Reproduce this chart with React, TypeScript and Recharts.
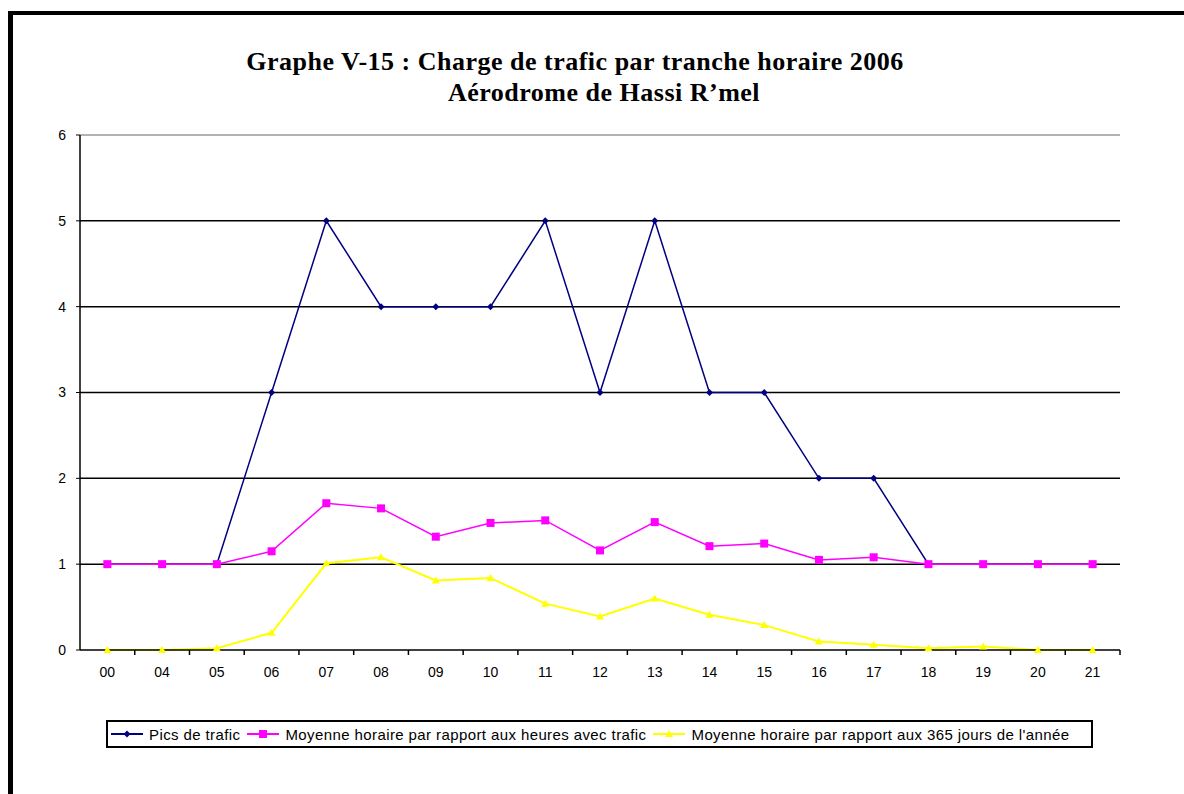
import React from 'react';
import { LineChart, Line, XAxis, YAxis, ReferenceLine } from 'recharts';

const hours = ['00', '04', '05', '06', '07', '08', '09', '10', '11', '12', '13', '14', '15', '16', '17', '18', '19', '20', '21'];
const picsTrafic = [1, 1, 1, 3, 5, 4, 4, 4, 5, 3, 5, 3, 3, 2, 2, 1, 1, 1, 1];
const moyHeures = [1, 1, 1, 1.15, 1.71, 1.65, 1.32, 1.48, 1.51, 1.16, 1.49, 1.21, 1.24, 1.05, 1.08, 1, 1, 1, 1];
const moy365 = [0, 0, 0.02, 0.2, 1.01, 1.08, 0.81, 0.84, 0.54, 0.39, 0.6, 0.41, 0.29, 0.1, 0.06, 0.02, 0.04, 0, 0];
const yTicks = [0, 1, 2, 3, 4, 5, 6];
const gridValues = [1, 2, 3, 4, 5];

const titleLines = [
  'Graphe V-15 : Charge de trafic par tranche horaire 2006',
  'Aérodrome de Hassi R\u2019mel',
];

const seriesNames = {
  pics: 'Pics de trafic',
  heures: 'Moyenne horaire par rapport aux heures avec trafic',
  jours: "Moyenne horaire par rapport aux 365 jours de l'année",
};

const NAVY = '#000080';
const MAGENTA = '#FF00FF';
const YELLOW = '#FFFF00';

const data = hours.map((h, i) => ({
  hour: h,
  pics: picsTrafic[i],
  heures: moyHeures[i],
  jours: moy365[i],
}));

const CHART_W = 1184;
const CHART_H = 700;
const MARGIN = { top: 135, right: 64, left: 0, bottom: 20 };
const Y_W = 80;
const BAND = (CHART_W - MARGIN.right - Y_W) / hours.length;
const SANS = "'Liberation Sans', Arial, sans-serif";

const Diamond = (props: any) => {
  const { cx, cy } = props;
  if (cx == null || cy == null) return null;
  return <path d={`M${cx},${cy - 3.5}L${cx + 3.5},${cy}L${cx},${cy + 3.5}L${cx - 3.5},${cy}Z`} fill={NAVY} />;
};

const Square = (props: any) => {
  const { cx, cy } = props;
  if (cx == null || cy == null) return null;
  return <rect x={cx - 4} y={cy - 4} width={8} height={8} fill={MAGENTA} />;
};

const Triangle = (props: any) => {
  const { cx, cy } = props;
  if (cx == null || cy == null) return null;
  return <path d={`M${cx},${cy - 4}L${cx + 4},${cy + 3}L${cx - 4},${cy + 3}Z`} fill={YELLOW} />;
};

const HourTick = (props: any) => {
  const { x, y, payload } = props;
  return (
    <g>
      <line x1={x + BAND / 2} x2={x + BAND / 2} y1={y - 17} y2={y - 12} stroke="#000" strokeWidth={1.5} />
      <text x={x} y={y} dy="0.71em" textAnchor="middle" fontSize={14} fill="#000" fontFamily={SANS}>
        {payload.value}
      </text>
    </g>
  );
};

const legendIcon = (key: string, color: string) => (
  <svg width={36} height={14} style={{ marginRight: 4 }}>
    <line x1={2} x2={34} y1={7} y2={7} stroke={color} strokeWidth={2} />
    {key === 'pics' && <path d="M18,3.5L21.5,7L18,10.5L14.5,7Z" fill={color} />}
    {key === 'heures' && <rect x={14} y={3} width={8} height={8} fill={color} />}
    {key === 'jours' && <path d="M18,3L22,10L14,10Z" fill={color} />}
  </svg>
);

const LegendBox = () => {
  const items = [
    { key: 'pics', color: NAVY },
    { key: 'heures', color: MAGENTA },
    { key: 'jours', color: YELLOW },
  ];
  return (
    <div style={{
      position: 'absolute', left: 106, top: 720, width: 987, height: 28,
      border: '2px solid #000', boxSizing: 'border-box', background: '#fff',
      display: 'flex', alignItems: 'center', paddingLeft: 1,
      fontFamily: SANS, fontSize: 15, letterSpacing: 0.4, color: '#000', whiteSpace: 'nowrap',
    }}>
      {items.map((it) => (
        <div key={it.key} style={{ display: 'flex', alignItems: 'center', marginRight: 5 }}>
          {legendIcon(it.key, it.color)}
          <span>{(seriesNames as any)[it.key]}</span>
        </div>
      ))}
    </div>
  );
};

export default function App() {
  return (
    <div style={{ position: 'absolute', left: 0, top: 0, width: 1184, height: 794, background: '#fff', overflow: 'hidden' }}>
      <div style={{
        position: 'absolute', left: 8, top: 11, width: 1200, height: 800,
        borderLeft: '5px solid #000', borderTop: '4px solid #000',
      }} />
      <div style={{
        position: 'absolute', left: 0, top: 46, width: 1150, textAlign: 'center',
        fontFamily: "'Liberation Serif', 'Times New Roman', serif", fontSize: 26, fontWeight: 'bold',
        letterSpacing: 0.5, lineHeight: '31px',
      }}>
        <div>{titleLines[0]}</div>
        <div style={{ paddingLeft: 58 }}>{titleLines[1]}</div>
      </div>
      <div style={{ position: 'absolute', left: 0, top: 0 }}>
        <LineChart width={CHART_W} height={CHART_H} data={data} margin={MARGIN}>
          <XAxis dataKey="hour" height={30} axisLine={{ stroke: '#000', strokeWidth: 1.5 }}
            padding={{ left: BAND / 2, right: BAND / 2 }}
            tickLine={false} tickSize={5} tickMargin={12} interval={0} tick={<HourTick />} />
          <YAxis width={Y_W} domain={[0, 6]} ticks={yTicks} interval={0}
            axisLine={{ stroke: '#000', strokeWidth: 1.5 }} tickLine={{ stroke: '#000' }} tickSize={4} tickMargin={10}
            tick={{ fontSize: 14, fill: '#000', fontFamily: SANS }} />
          <ReferenceLine y={6} stroke="#999" strokeWidth={1.5} />
          {gridValues.map((v) => (
            <ReferenceLine key={v} y={v} stroke="#000" strokeWidth={1.5} />
          ))}
          <Line dataKey="pics" name={seriesNames.pics} stroke={NAVY} strokeWidth={1.5} dot={<Diamond />}
            activeDot={false} isAnimationActive={false} />
          <Line dataKey="heures" name={seriesNames.heures} stroke={MAGENTA} strokeWidth={1.5} dot={<Square />}
            activeDot={false} isAnimationActive={false} />
          <Line dataKey="jours" name={seriesNames.jours} stroke={YELLOW} strokeWidth={2} dot={<Triangle />}
            activeDot={false} isAnimationActive={false} />
        </LineChart>
      </div>
      <LegendBox />
    </div>
  );
}
